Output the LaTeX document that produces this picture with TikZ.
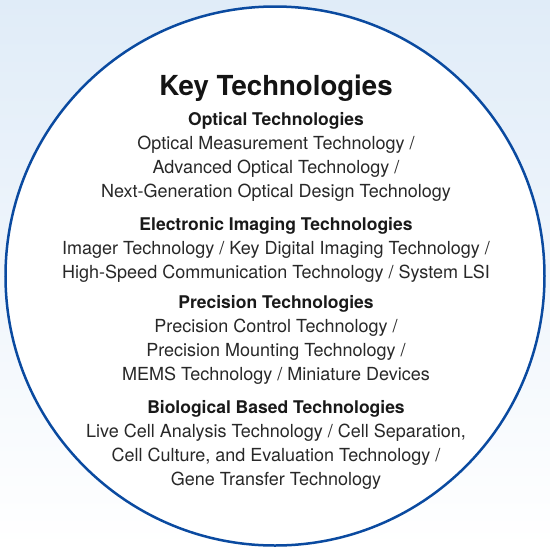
\documentclass[tikz,border=0pt]{standalone}
\usepackage{fontspec}
\setmainfont{TeX Gyre Heros}
\usepackage{tikz}
\definecolor{ringblue}{RGB}{10,74,160}
\definecolor{skyblue}{RGB}{224,236,248}
\definecolor{inkgray}{RGB}{40,40,40}
\newcommand{\bodyfont}{\fontsize{18}{24}\selectfont}
\newcommand{\sechead}[1]{{\fontsize{17.5}{24}\selectfont\bfseries\color{black!90}#1}}

\begin{document}
\begin{tikzpicture} [x=1pt, y=-1pt, every node/.style={anchor=base, inner sep=0pt, text=inkgray, font=\bodyfont}]
    \useasboundingbox (0,0) rectangle (550,547);
    \fill [top color=skyblue, bottom color=white] (0,0) rectangle (550,547);
    \draw [ringblue, line width=2.5pt, fill=white] (275,276) circle (269.5pt);

    \node (title) at (276,95) {\fontsize{27.6}{30}\selectfont\bfseries\color{black!92}Key Technologies};
    \node (optical) at (276,125) {
      \begin{tabular}[t]{@{}c@{}}
        \sechead{Optical Technologies} \\
        Optical Measurement Technology / \\
        Advanced Optical Technology / \\
        Next-Generation Optical Design Technology
      \end{tabular}
    };
    \node (imaging) at (276,230) {
      \begin{tabular}[t]{@{}c@{}}
        \sechead{Electronic Imaging Technologies} \\
        Imager Technology / Key Digital Imaging Technology / \\
        High-Speed Communication Technology / System LSI
      \end{tabular}
    };
    \node (precision) at (276,308) {
      \begin{tabular}[t]{@{}c@{}}
        \sechead{Precision Technologies} \\
        Precision Control Technology / \\
        Precision Mounting Technology / \\
        MEMS Technology / Miniature Devices
      \end{tabular}
    };
    \node (bio) at (276,413) {
      \begin{tabular}[t]{@{}c@{}}
        \sechead{Biological Based Technologies} \\
        Live Cell Analysis Technology / Cell Separation, \\
        Cell Culture, and Evaluation Technology / \\
        Gene Transfer Technology
      \end{tabular}
    };
  \end{tikzpicture}
\end{document}
